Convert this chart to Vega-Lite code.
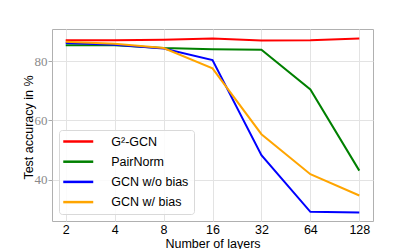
{
  "$schema": "https://vega.github.io/schema/vega-lite/v6.json",
  "width": 321,
  "height": 192,
  "autosize": {"type": "none"},
  "padding": {"left": 52, "top": 29, "right": 42, "bottom": 28},
  "background": "white",
  "data": {
    "values": [
      {"layers": "2", "method": "G²-GCN", "acc": 87.0},
      {"layers": "4", "method": "G²-GCN", "acc": 87.0},
      {"layers": "8", "method": "G²-GCN", "acc": 87.2},
      {"layers": "16", "method": "G²-GCN", "acc": 87.6},
      {"layers": "32", "method": "G²-GCN", "acc": 86.9},
      {"layers": "64", "method": "G²-GCN", "acc": 87.0},
      {"layers": "128", "method": "G²-GCN", "acc": 87.6},
      {"layers": "2", "method": "PairNorm", "acc": 85.3},
      {"layers": "4", "method": "PairNorm", "acc": 85.3},
      {"layers": "8", "method": "PairNorm", "acc": 84.4},
      {"layers": "16", "method": "PairNorm", "acc": 84.0},
      {"layers": "32", "method": "PairNorm", "acc": 83.8},
      {"layers": "64", "method": "PairNorm", "acc": 70.4},
      {"layers": "128", "method": "PairNorm", "acc": 43.0},
      {"layers": "2", "method": "GCN w/o bias", "acc": 86.1},
      {"layers": "4", "method": "GCN w/o bias", "acc": 85.5},
      {"layers": "8", "method": "GCN w/o bias", "acc": 84.2},
      {"layers": "16", "method": "GCN w/o bias", "acc": 80.3},
      {"layers": "32", "method": "GCN w/o bias", "acc": 48.2},
      {"layers": "64", "method": "GCN w/o bias", "acc": 29.1},
      {"layers": "128", "method": "GCN w/o bias", "acc": 28.9},
      {"layers": "2", "method": "GCN w/ bias", "acc": 86.5},
      {"layers": "4", "method": "GCN w/ bias", "acc": 85.8},
      {"layers": "8", "method": "GCN w/ bias", "acc": 84.4},
      {"layers": "16", "method": "GCN w/ bias", "acc": 77.5},
      {"layers": "32", "method": "GCN w/ bias", "acc": 55.3},
      {"layers": "64", "method": "GCN w/ bias", "acc": 41.8},
      {"layers": "128", "method": "GCN w/ bias", "acc": 34.6}
    ]
  },
  "config": {
    "view": {"stroke": "#b0b0b0", "strokeWidth": 1},
    "font": "Liberation Sans"
  },
  "mark": {"type": "line", "strokeWidth": 2},
  "encoding": {
    "x": {
      "field": "layers",
      "type": "ordinal",
      "sort": ["2", "4", "8", "16", "32", "64", "128"],
      "scale": {"type": "point", "padding": 0.28},
      "axis": {
        "title": "Number of layers",
        "titleFont": "Liberation Sans",
        "titleFontSize": 12.5,
        "titleFontWeight": "normal",
        "titleColor": "black",
        "titleBaseline": "alphabetic",
        "titleY": 26,
        "labelFont": "Liberation Sans",
        "labelFontSize": 12.5,
        "labelColor": "black",
        "labelAngle": 0,
        "labelPadding": 2,
        "ticks": false,
        "domain": false,
        "grid": true,
        "gridColor": "#e3e3e3",
        "gridWidth": 1
      }
    },
    "y": {
      "field": "acc",
      "type": "quantitative",
      "scale": {"domain": [26, 90.8], "nice": false, "zero": false},
      "axis": {
        "title": "Test accuracy in %",
        "titleFont": "Liberation Sans",
        "titleFontSize": 12.5,
        "titleFontWeight": "normal",
        "titleColor": "black",
        "titleAngle": -90,
        "titleAlign": "center",
        "titleBaseline": "alphabetic",
        "titleX": -20,
        "titleY": 98,
        "values": [40, 60, 80],
        "labelFont": "Liberation Serif",
        "labelFontSize": 13,
        "labelColor": "#8a8a8a",
        "labelPadding": 1,
        "tickSize": 4,
        "tickColor": "#aaaaaa",
        "domain": false,
        "grid": true,
        "gridColor": "#e3e3e3",
        "gridWidth": 1
      }
    },
    "color": {
      "field": "method",
      "type": "nominal",
      "sort": ["G²-GCN", "PairNorm", "GCN w/o bias", "GCN w/ bias"],
      "scale": {
        "domain": ["G²-GCN", "PairNorm", "GCN w/o bias", "GCN w/ bias"],
        "range": ["#ff0000", "#008000", "#0000ff", "#ffa500"]
      },
      "legend": {
        "title": null,
        "orient": "none",
        "legendX": 7,
        "legendY": 101,
        "symbolType": "M-3,0H3",
        "symbolSize": 100,
        "symbolStrokeWidth": 2.5,
        "symbolOffset": 7.75,
        "labelFont": "Liberation Sans",
        "labelFontSize": 12.5,
        "labelColor": "black",
        "labelOffset": 26.5,
        "rowPadding": 7.2,
        "padding": 5,
        "strokeColor": "#d9d9d9",
        "fillColor": "rgba(255,255,255,0.85)",
        "cornerRadius": 3
      }
    }
  }
}
